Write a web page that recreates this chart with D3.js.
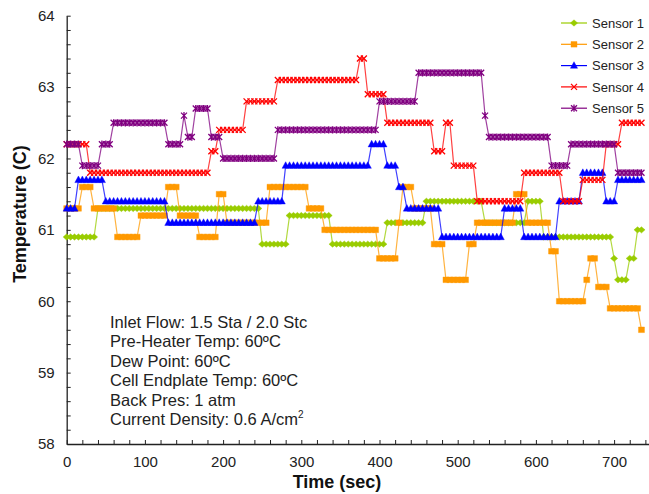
<!DOCTYPE html>
<html>
<head>
<meta charset="utf-8">
<script src="https://cdn.jsdelivr.net/npm/d3@7/dist/d3.min.js"></script>
<style>
  body { margin: 0; background: #fff; }
  text { font-family: "Liberation Sans", Arial, sans-serif; }
</style>
</head>
<body>
<svg id="chart" width="649" height="494"></svg>
<script>
// readings every 5 sec, stored as runs of [value, number of samples]
var sampleStep = 5;
var seriesNames = ["Sensor 1", "Sensor 2", "Sensor 3", "Sensor 4", "Sensor 5"];
var sensor1Runs = [[60.9,8],[61.3,42],[60.8,7],[61.2,11],[60.8,14],[61.1,10],[61.4,15],[61.1,11],[61.4,4],[60.9,18],[60.6,1],[60.3,3],[60.6,2],[61.0,2]];
var sensor2Runs = [[61.3,4],[61.6,3],[61.3,6],[60.9,6],[61.2,7],[61.6,3],[61.2,5],[60.9,5],[61.5,2],[61.1,11],[61.6,10],[61.3,4],[61.0,14],[60.6,5],[61.1,1],[61.6,3],[61.3,5],[60.8,3],[60.3,6],[60.8,2],[61.1,10],[61.5,3],[61.1,6],[60.7,2],[60.0,7],[60.3,1],[60.6,2],[60.2,3],[59.9,8],[59.6,1]];
var sensor3Runs = [[61.3,3],[61.7,7],[61.4,16],[61.1,23],[61.4,7],[61.9,22],[62.2,4],[61.9,3],[61.6,2],[61.3,9],[60.9,16],[61.3,5],[60.9,9],[61.4,6],[61.8,6],[61.4,3],[61.7,7]];
var sensor4Runs = [[62.2,6],[61.8,31],[62.1,2],[62.4,7],[62.8,8],[63.1,21],[63.4,2],[62.9,5],[62.5,12],[62.1,3],[62.5,2],[61.9,6],[61.4,12],[61.8,10],[61.4,5],[61.7,6],[62.2,4],[62.5,6]];
var sensor5Runs = [[62.2,4],[61.9,5],[62.2,3],[62.5,14],[62.2,4],[62.6,1],[62.3,2],[62.7,4],[62.3,3],[62.0,14],[62.4,26],[62.8,10],[63.2,17],[62.6,1],[62.3,16],[61.9,5],[62.2,12],[61.8,7]];
var xTicks = [0, 100, 200, 300, 400, 500, 600, 700];
var yTicks = [58, 59, 60, 61, 62, 63, 64];
var notes = ["Inlet Flow: 1.5 Sta / 2.0 Stc", "Pre-Heater Temp: 60ºC", "Dew Point: 60ºC",
             "Cell Endplate Temp: 60ºC", "Back Pres: 1 atm", "Current Density: 0.6 A/cm"];

var colors = ["#99cc00", "#ff9900", "#0000ff", "#ff0000", "#800080"];
var markers = [
  {d: "M0,-3.2L3.6,0L0,3.2L-3.6,0Z", fill: true},
  {d: "M-3,-2.8h6v5.6h-6Z", fill: true},
  {d: "M0,-3.9L3.6,2.7L-3.6,2.7Z", fill: true},
  {d: "M-3,-3L3,3M3,-3L-3,3", fill: false},
  {d: "M-3,-3L3,3M3,-3L-3,3M0,-3.6L0,3.6", fill: false}
];

function expandRuns(runs) {
  var pts = [], t = 0;
  runs.forEach(function(r) {
    for (var i = 0; i < r[1]; i++) { pts.push({t: t, v: r[0]}); t += sampleStep; }
  });
  return pts;
}

var allSeries = [sensor1Runs, sensor2Runs, sensor3Runs, sensor4Runs, sensor5Runs].map(expandRuns);

var svg = d3.select("#chart");
var x = d3.scaleLinear().domain([0, 750]).range([66.7, 653.2]);
var y = d3.scaleLinear().domain([58, 64]).range([444, 15.7]);

// axes, ticks drawn on the inside
var xMinor = d3.range(0, 751, 20).filter(function(v) { return v % 100 != 0; });
var yMinor = d3.range(58, 64.01, 0.2).filter(function(v) { return Math.abs(v - Math.round(v)) > 0.01; });

svg.append("g").attr("transform", "translate(0,444)")
  .call(d3.axisBottom(x).tickValues(xTicks).tickSizeInner(-4).tickSizeOuter(0).tickPadding(12));
svg.append("g").attr("transform", "translate(66.7,0)")
  .call(d3.axisLeft(y).tickValues(yTicks).tickFormat(d3.format("d")).tickSizeInner(-4).tickSizeOuter(0).tickPadding(12));
svg.append("g").attr("transform", "translate(0,444)")
  .call(d3.axisBottom(x).tickValues(xMinor).tickSizeInner(-4).tickSizeOuter(0).tickFormat(""))
  .select(".domain").remove();
svg.append("g").attr("transform", "translate(66.7,0)")
  .call(d3.axisLeft(y).tickValues(yMinor).tickSizeInner(-4).tickSizeOuter(0).tickFormat(""))
  .select(".domain").remove();

svg.selectAll(".domain").attr("stroke", "#222").attr("stroke-width", 1.3);
svg.selectAll(".tick line").attr("stroke", "#222").attr("stroke-width", 1);
svg.selectAll(".tick text").attr("font-size", 15).attr("fill", "#222")
  .style("font-family", "'Liberation Sans', Arial, sans-serif");

// axis titles
svg.append("text").attr("x", 337).attr("y", 488).attr("text-anchor", "middle")
  .attr("font-size", 18).attr("font-weight", "bold").attr("fill", "#111").text("Time (sec)");
svg.append("text").attr("transform", "translate(25.5,214) rotate(-90)").attr("text-anchor", "middle")
  .attr("font-size", 18).attr("font-weight", "bold").attr("fill", "#111").text("Temperature (C)");

// series
var line = d3.line().x(function(d) { return x(d.t); }).y(function(d) { return y(d.v); });

allSeries.forEach(function(pts, i) {
  var g = svg.append("g").attr("class", "series");
  g.append("path").datum(pts).attr("d", line)
    .attr("fill", "none").attr("stroke", colors[i]).attr("stroke-width", 1.2).attr("stroke-opacity", 0.75);
  g.selectAll("path.mk").data(pts).enter().append("path").attr("class", "mk")
    .attr("transform", function(d) { return "translate(" + x(d.t) + "," + y(d.v) + ")"; })
    .attr("d", markers[i].d)
    .attr("fill", markers[i].fill ? colors[i] : "none")
    .attr("stroke", colors[i])
    .attr("stroke-width", markers[i].fill ? 0.4 : 1.3);
});

// legend
var legend = svg.append("g").attr("transform", "translate(561,23)");
seriesNames.forEach(function(name, i) {
  var row = legend.append("g").attr("transform", "translate(0," + (i * 21.3) + ")");
  row.append("line").attr("x1", 0).attr("x2", 26).attr("stroke", colors[i]).attr("stroke-width", 1.2);
  row.append("path").attr("transform", "translate(13,0)").attr("d", markers[i].d)
    .attr("fill", markers[i].fill ? colors[i] : "none").attr("stroke", colors[i])
    .attr("stroke-width", markers[i].fill ? 0.4 : 1.3);
  row.append("text").attr("x", 31).attr("y", 4.6).attr("font-size", 13).attr("fill", "#222").text(name);
});

// test conditions
var noteText = svg.append("text").attr("font-size", 16.5).attr("fill", "#222");
notes.forEach(function(s, i) {
  noteText.append("tspan").attr("x", 110).attr("y", 328 + i * 19.4).text(s);
  if (i == notes.length - 1) {
    noteText.append("tspan").attr("dy", -7).attr("font-size", 10).text("2");
  }
});
</script>
</body>
</html>
